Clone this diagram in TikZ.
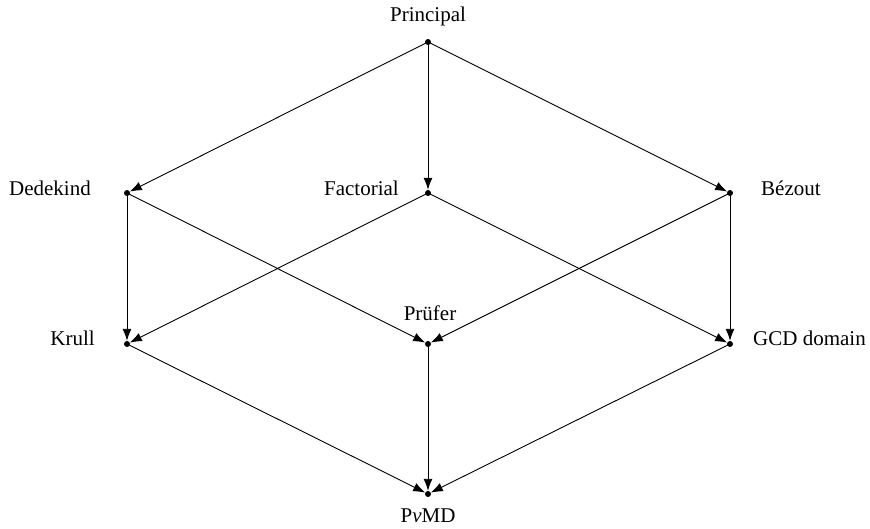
\documentclass[tikz,border=0pt]{standalone}
\usepackage{fontspec}
\setmainfont{Liberation Serif}
\usetikzlibrary{arrows.meta}
\begin{document}
\begin{tikzpicture}[x=1pt,y=-1pt,
  pt/.style={circle,fill=black,inner sep=0pt,minimum size=6pt},
  lab/.style={font=\fontsize{21}{25}\selectfont,inner sep=0pt},
  arr/.style={-{Latex[length=12pt,width=9pt]},line width=0.9pt,shorten <=-1pt}]
\useasboundingbox (0,0) rectangle (870,529);
\node[pt] (P) at (428,42) {};
\node[pt] (De) at (127,193) {};
\node[pt] (F) at (428,193) {};
\node[pt] (B) at (730,193) {};
\node[pt] (K) at (127,344) {};
\node[pt] (Pr) at (428,344) {};
\node[pt] (G) at (730,344) {};
\node[pt] (V) at (428,494) {};
\node[lab] (lP) at (428,16) {Principal};
\node[lab,anchor=east] (lDe) at (91,188) {Dedekind};
\node[lab,anchor=east] (lF) at (399,188) {Factorial};
\node[lab,anchor=west] (lB) at (761,188) {Bézout};
\node[lab,anchor=east] (lK) at (95,338) {Krull};
\node[lab] (lPr) at (430,313) {Prüfer};
\node[lab,anchor=west] (lG) at (753,338) {GCD domain};
\node[lab] (lV) at (428,516) {P\textit{v}MD};
\draw[arr] (P.center) -- (De);
\draw[arr] (P.center) -- (F);
\draw[arr] (P.center) -- (B);
\draw[arr] (De.center) -- (K);
\draw[arr] (De.center) -- (Pr);
\draw[arr] (F.center) -- (K);
\draw[arr] (F.center) -- (G);
\draw[arr] (B.center) -- (Pr);
\draw[arr] (B.center) -- (G);
\draw[arr] (K.center) -- (V);
\draw[arr] (Pr.center) -- (V);
\draw[arr] (G.center) -- (V);
\end{tikzpicture}
\end{document}
